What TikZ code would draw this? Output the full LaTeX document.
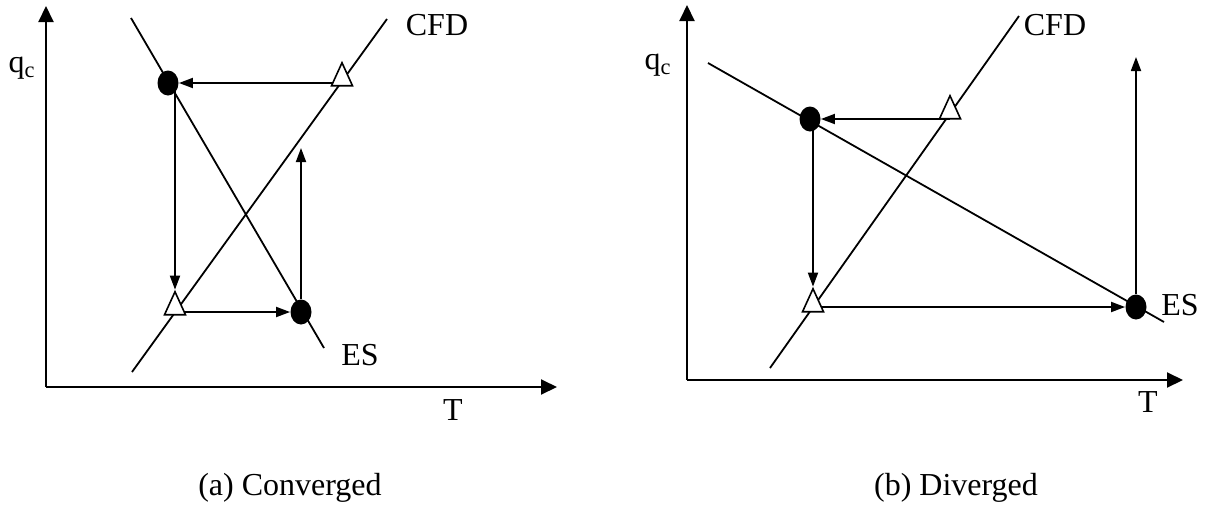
\documentclass[tikz,border=0pt]{standalone}
\usepackage{fontspec}
\setmainfont{Liberation Serif}
\usetikzlibrary{arrows.meta,shapes.geometric,backgrounds}

\begin{document}
\begin{tikzpicture}[x=0.5pt, y=-0.5pt,
    lab/.style ={font=\fontsize{16}{19}\selectfont, inner sep=0pt},
    dot/.style ={ellipse, fill=black, inner sep=0pt, minimum width=10.5pt, minimum height=12.5pt},
    tri/.style ={isosceles triangle, isosceles triangle stretches, shape border rotate=90,
                 draw=black, fill=white, line width=0.8pt, inner sep=0pt,
                 minimum width=10.5pt, minimum height=11.5pt},
    ln/.style  ={line width=0.9pt},
    arr/.style ={line width=0.9pt, -{Triangle[length=7pt,width=5pt]}},
    axis/.style={line width=1pt, -{Triangle[length=8pt,width=7.5pt]}},
  ]
  \useasboundingbox (0,0) rectangle (1205,520);

  % ---------------- (a) converged ------------------------------------------
  \coordinate (oa) at (46,387);
  \coordinate (xa) at (557,387);
  \coordinate (ya) at (46,6);
  \coordinate (ua) at (303,148);
  \node[dot] (ca1) at (168,83)  {};
  \node[dot] (ca2) at (301,312) {};
  \node[tri] (ta1) at (342,79)  {};
  \node[tri] (ta2) at (175,308) {};
  \node[lab] (qa)   at (22,68)   {q\textsubscript{c}};
  \node[lab] (cfda) at (437,25)  {CFD};
  \node[lab] (esa)  at (360,355) {ES};
  \node[lab] (Ta)   at (453,410) {T};
  \node[lab] (capa) at (290,488) {(a) Converged};

  % ---------------- (b) diverged -------------------------------------------
  \coordinate (ob) at (687,380);
  \coordinate (xb) at (1183,380);
  \coordinate (yb) at (687,5);
  \coordinate (ub) at (1136,57);
  \node[dot] (cb1) at (810,119)  {};
  \node[dot] (cb2) at (1136,307) {};
  \node[tri] (tb1) at (950,112)  {};
  \node[tri] (tb2) at (813,305)  {};
  \node[lab] (qb)   at (658,65)   {q\textsubscript{c}};
  \node[lab] (cfdb) at (1055,25)  {CFD};
  \node[lab] (esb)  at (1180,305) {ES};
  \node[lab] (Tb)   at (1148,402) {T};
  \node[lab] (capb) at (956,488)  {(b) Diverged};

  % ---------------- lines and arrows, behind the markers -------------------
  \begin{scope}[on background layer]
    \draw[axis] (oa) -- (xa);
    \draw[axis] (oa) -- (ya);
    \draw[ln] (131,18) -- (324,348);   % ES
    \draw[ln] (387,19) -- (132,372);   % CFD
    \draw[arr] (ta1 |- ca1) -- (ca1);
    \draw[arr] (ca1 -| ta2) -- (ta2.apex);
    \draw[arr] (ta2 |- ca2) -- (ca2);
    \draw[arr] (ca2) -- (ca2 |- ua);

    \draw[axis] (ob) -- (xb);
    \draw[axis] (ob) -- (yb);
    \draw[ln] (708,63) -- (1164,322);  % ES
    \draw[ln] (1019,16) -- (770,368);  % CFD
    \draw[arr] (tb1 |- cb1) -- (cb1);
    \draw[arr] (cb1 -| tb2) -- (tb2.apex);
    \draw[arr] (tb2 |- cb2) -- (cb2);
    \draw[arr] (cb2) -- (cb2 |- ub);
  \end{scope}

\end{tikzpicture}
\end{document}
